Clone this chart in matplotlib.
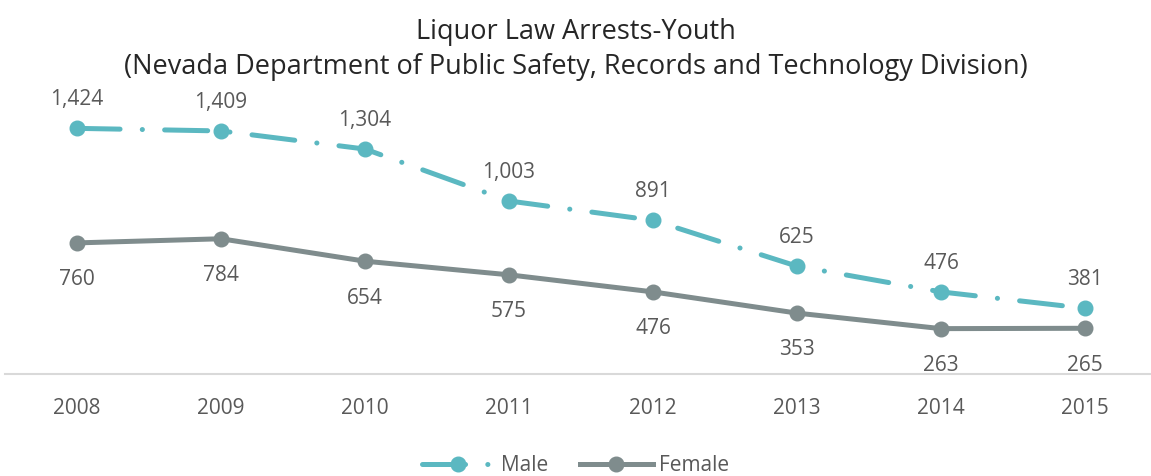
import matplotlib.pyplot as plt

years = ['2008', '2009', '2010', '2011', '2012', '2013', '2014', '2015']
male = [1424, 1409, 1304, 1003, 891, 625, 476, 381]
female = [760, 784, 654, 575, 476, 353, 263, 265]

male_color = '#5BB8C1'
female_color = '#7F8C8D'
text_color = '#595959'

plt.rcParams['font.family'] = ['Open Sans', 'DejaVu Sans']
plt.rcParams['lines.scale_dashes'] = False

fig = plt.figure(figsize=(11.51, 4.76), dpi=100)
ax = fig.add_axes([5 / 1151, 102 / 476, 1146 / 1151, 276 / 476])

x = list(range(len(years)))
ax.plot(x, male, color=male_color, lw=3.6, marker='o', markersize=10.5,
        linestyle=(0, (31, 16, 0.1, 16)), dash_capstyle='round', label='Male')
ax.plot(x, female, color=female_color, lw=3.6, marker='o', markersize=10.5,
        label='Female')

for i, v in enumerate(male):
    ax.annotate(f'{v:,}', (i, v), xytext=(0, 13), textcoords='offset points',
                ha='center', va='bottom', fontsize=15, color=text_color)
for i, v in enumerate(female):
    ax.annotate(f'{v:,}', (i, v), xytext=(0, -19), textcoords='offset points',
                ha='center', va='top', fontsize=15, color=text_color)

ax.set_xlim(-0.5, (1151 - 77) / 144)
ax.set_ylim(0, 1600)
ax.set_yticks([])
ax.set_xticks(x)
ax.set_xticklabels(years, fontsize=15, color=text_color)
ax.tick_params(axis='x', length=0, pad=17)
for s in ['top', 'right', 'left']:
    ax.spines[s].set_visible(False)
ax.spines['bottom'].set_color('#D9D9D9')
ax.spines['bottom'].set_linewidth(1.5)

fig.text(0.5, 0.932, 'Liquor Law Arrests-Youth', ha='center', va='center',
         fontsize=19.5, color='#262626')
fig.text(0.5, 0.86, '(Nevada Department of Public Safety, Records and Technology Division)',
         ha='center', va='center', fontsize=19.5, color='#262626')

leg = fig.legend(loc='center', bbox_to_anchor=(0.5, 0.022), ncol=2, frameon=False,
                 fontsize=15, handlelength=3.5, columnspacing=1.5, handletextpad=0.3)
for t in leg.get_texts():
    t.set_color(text_color)

fig.savefig('out.png', dpi=100)
